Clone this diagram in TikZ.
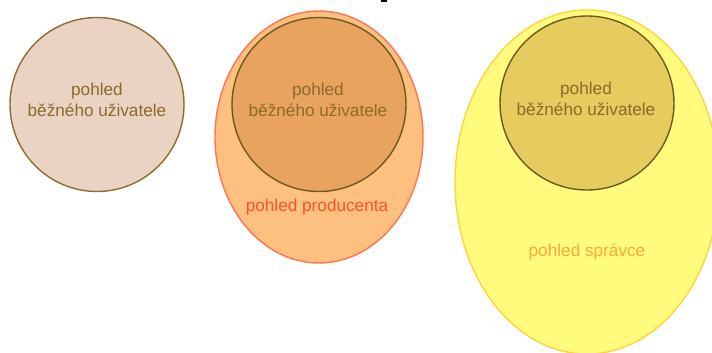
\documentclass[tikz,border=0pt]{standalone}
\usepackage{fontspec}
\setmainfont{Liberation Sans}
\usetikzlibrary{shapes.geometric}

\definecolor{userfill}{HTML}{EBD3C4}
\definecolor{userline}{HTML}{8C6E30}
\definecolor{usertext}{HTML}{8C6A2A}
\definecolor{prodfill}{HTML}{FDC07E}
\definecolor{prodline}{HTML}{FF7452}
\definecolor{prodtext}{HTML}{F2562A}
\definecolor{prodinner}{HTML}{E8A35E}
\definecolor{innerline}{HTML}{6E5A1E}
\definecolor{adminfill}{HTML}{FFFB7D}
\definecolor{adminline}{HTML}{FFD33E}
\definecolor{admintext}{HTML}{FFA63C}
\definecolor{admininner}{HTML}{E6CB5E}

\tikzset{
  view/.style={circle, inner sep=0pt, minimum size=174pt, line width=1.4pt},
  viewtext/.style={align=center, text=usertext, font=\fontsize{17.2}{20.5}\selectfont},
  outer/.style={ellipse, inner sep=0pt, line width=1.4pt},
  caption/.style={font=\fontsize{17.2}{20}\selectfont}
}

\begin{document}
\begin{tikzpicture}[x=1pt, y=-1pt]
  \useasboundingbox (0,0) rectangle (712,353);

  % ordinary user's view
  \node[view, fill=userfill, draw=userline] (user) at (97,104.5) {};
  \node[viewtext] (usertxt) at (97,100) {pohled\\běžného uživatele};

  % producer's view containing the user's view
  \node[outer, fill=prodfill, draw=prodline, minimum width=208pt, minimum height=252pt]
    (prod) at (319,137) {};
  \node[view, fill=prodinner, draw=innerline] (produser) at (319,104.5) {};
  \node[viewtext] (produsertxt) at (318,100) {pohled\\běžného uživatele};
  \node[caption, text=prodtext] (prodlabel) at (317,207) {pohled producenta};

  % administrator's view containing the user's view
  \node[outer, fill=adminfill, draw=adminline, minimum width=264pt, minimum height=344pt]
    (admin) at (587,182) {};
  \node[view, fill=admininner, draw=innerline] (adminuser) at (587,103) {};
  \node[viewtext] (adminusertxt) at (586,99) {pohled\\běžného uživatele};
  \node[caption, text=admintext] (adminlabel) at (587,252) {pohled správce};

  % small dark mark at the top edge
  \fill[black] (381,0) rectangle (387,2);
\end{tikzpicture}
\end{document}
